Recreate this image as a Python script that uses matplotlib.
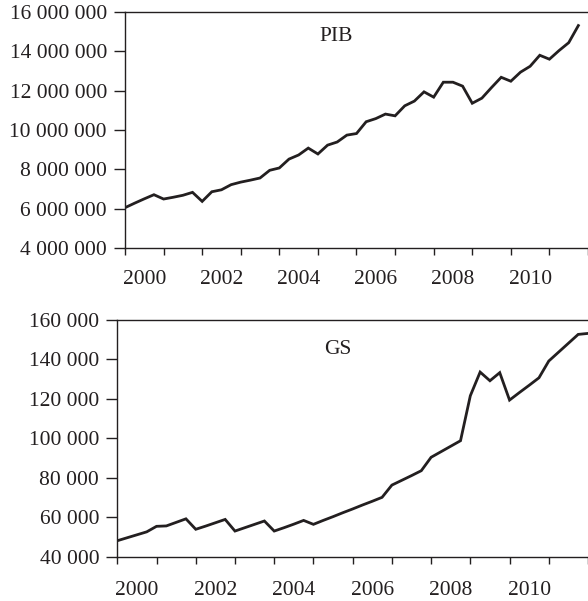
import numpy as np
import matplotlib.pyplot as plt
from matplotlib.ticker import FuncFormatter

# quarterly series, 2000Q1 onwards
pib = [6.05, 6.28, 6.50, 6.71, 6.49, 6.58, 6.68, 6.83, 6.37, 6.86,
       6.96, 7.22, 7.35, 7.45, 7.56, 7.95, 8.07, 8.52, 8.73, 9.08,
       8.78, 9.23, 9.39, 9.74, 9.82, 10.42, 10.58, 10.81, 10.72, 11.23,
       11.47, 11.94, 11.67, 12.43, 12.43, 12.23, 11.36, 11.62, 12.16, 12.68,
       12.48, 12.94, 13.24, 13.80, 13.60, 14.04, 14.44, 15.31]
pib = [v * 1e6 for v in pib]

gs = [48.1, 49.6, 51.1, 52.6, 55.4, 55.6, 57.4, 59.2, 53.9, 55.5,
      57.2, 58.9, 53.0, 54.7, 56.4, 58.1, 53.0, 54.7, 56.5, 58.4,
      56.4, 58.4, 60.3, 62.3, 64.2, 66.2, 68.1, 70.1, 76.3, 78.7,
      81.1, 83.6, 90.4, 93.2, 96.0, 98.8, 121.6, 133.6, 129.2, 133.3,
      119.4, 123.2, 126.9, 130.7, 139.2, 143.7, 148.2, 152.7, 153.2]
gs = [v * 1e3 for v in gs]

years = ['2000', '2002', '2004', '2006', '2008', '2010']

plt.rcParams['font.family'] = ['Liberation Serif', 'DejaVu Serif']
ink = '#231f20'

fmt = FuncFormatter(lambda v, p: f'{int(v):,}'.replace(',', ' '))

fig = plt.figure(figsize=(5.88, 6.01), dpi=100)
ax1 = fig.add_axes([125 / 588, 1 - 248 / 601, 1 - 125 / 588, (248 - 12) / 601])
ax2 = fig.add_axes([117.3 / 588, 1 - 556.7 / 601, 1 - 117.3 / 588, (556.7 - 320) / 601])


def style(ax, series, yticks, xmax, label, lx, ly, xpad):
    x = np.arange(len(series))
    ax.plot(x, series, color=ink, lw=2.0, solid_joinstyle='miter')
    ax.set_xlim(0, xmax)
    ax.set_ylim(yticks[0], yticks[-1])
    ax.set_yticks(yticks)
    ax.yaxis.set_major_formatter(fmt)
    ax.set_xticks(np.arange(0, 49, 4))
    ax.set_xticks(np.arange(2, 48, 8), minor=True)
    ax.set_xticklabels([])
    ax.set_xticklabels(years, minor=True)
    ax.tick_params(axis='x', which='minor', length=0, labelsize=15.5, pad=xpad, colors=ink)
    ax.tick_params(axis='x', which='major', length=5, width=1, color=ink)
    ax.tick_params(axis='y', length=8, width=1, labelsize=15.5, pad=5, colors=ink)
    ax.spines['right'].set_visible(False)
    for s in ['left', 'top', 'bottom']:
        ax.spines[s].set_color(ink)
        ax.spines[s].set_linewidth(1.0)
    ax.text(lx, ly, label, fontsize=15.5, color=ink, ha='center', va='center')


style(ax1, pib, np.arange(4e6, 16.1e6, 2e6), 47.24, 'PIB', 21.9, 14.73e6, 15.5)
style(ax2, gs, np.arange(40e3, 160.1e3, 20e3), 47.94, 'GS', 22.5, 144.8e3, 17.5)

fig.savefig('out.png', dpi=100)
